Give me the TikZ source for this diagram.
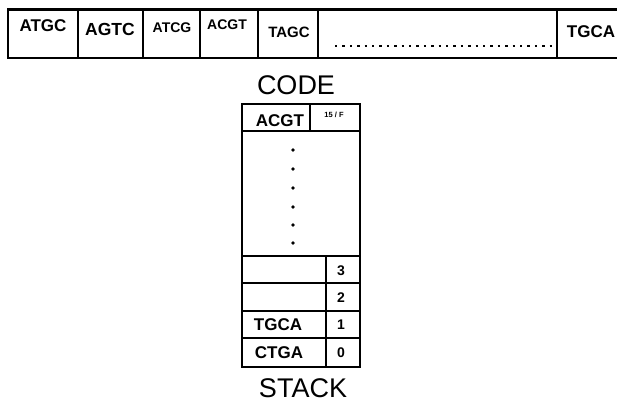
\documentclass[tikz,border=0pt]{standalone}
\usepackage{fontspec}
\setmainfont{Liberation Sans}
\begin{document}
\begin{tikzpicture}[x=1pt,y=-1pt,
  frame/.style={line width=2.2pt},
  lbl/.style={inner sep=0pt, font=\bfseries\fontsize{#1}{#1}\selectfont},
  titletext/.style={inner sep=0pt, font=\fontsize{27}{27}\selectfont}]
\useasboundingbox (0,0) rectangle (617,404);
% top code strip
\draw[frame] (630,9.5) -- (8,9.5) -- (8,58) -- (630,58);
\foreach \x in {78,143,200,258,318,557} \draw[frame] (\x,9.5) -- (\x,58);
\node[lbl=17] (c1) at (43,26) {ATGC};
\node[lbl=17.5] (c2) at (110,29) {AGTC};
\node[lbl=14] (c3) at (172,28) {ATCG};
\node[lbl=14] (c4) at (227,25) {ACGT};
\node[lbl=15] (c5) at (289,32) {TAGC};
\node[lbl=17] (c7) at (591,32) {TGCA};
\coordinate (d1) at (335,46);
\coordinate (d2) at (552,46);
\draw[line width=2.6pt, dash pattern=on 2.4pt off 5pt] (d1) -- (d2);
\node[titletext] (code) at (296,85) {CODE};
% stack
\draw[frame] (242,104) rectangle (360,367);
\draw[frame] (242,131) -- (360,131);
\draw[frame] (310,104) -- (310,131);
\foreach \y in {256,283,311,338} \draw[frame] (242,\y) -- (360,\y);
\draw[frame] (326,256) -- (326,367);
\node[lbl=17] (s0) at (280,121) {ACGT};
\node[inner sep=0pt, font=\bfseries\fontsize{7.5}{7.5}\selectfont] (s0n) at (334,115) {15 / F};
\foreach \y in {150,169,188,207,225,243} \fill (293,\y) circle (1.8);
\node[lbl=14] (n3) at (341,271) {3};
\node[lbl=14] (n2) at (341,298) {2};
\node[lbl=14] (n1) at (341,325) {1};
\node[lbl=14] (n0) at (341,353) {0};
\node[lbl=17] (s1) at (278,325) {TGCA};
\node[lbl=17] (s2) at (279,353) {CTGA};
\node[titletext] (stack) at (303,388) {STACK};
\end{tikzpicture}
\end{document}
